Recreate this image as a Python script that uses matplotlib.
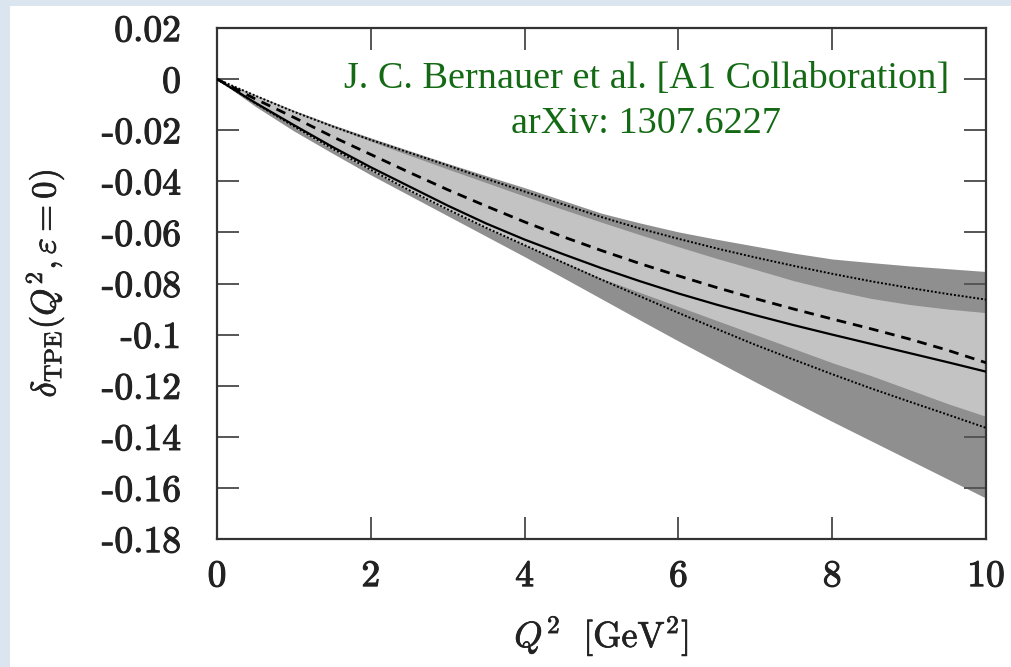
import matplotlib
matplotlib.use("Agg")
import matplotlib.pyplot as plt
import matplotlib.patches as mpatches
import matplotlib.patheffects as pe

# Q^2 grid [GeV^2]
q2 = [0, 0.5, 1, 1.5, 2, 2.5, 3, 3.5, 4, 4.5, 5, 5.5, 6, 6.5, 7, 7.5, 8, 8.5, 9, 9.5, 10]

# central curve (solid) and dashed curve
solid = [0, -0.0093, -0.018, -0.0265, -0.0345, -0.042, -0.0495, -0.0565, -0.0628, -0.0685, -0.074,
         -0.0791, -0.0839, -0.0883, -0.0924, -0.0963, -0.1, -0.1036, -0.1072, -0.1108, -0.1145]
dashed = [0, -0.0078, -0.015, -0.0225, -0.0295, -0.0365, -0.0433, -0.0497, -0.0559, -0.0617, -0.0671,
          -0.0722, -0.077, -0.0816, -0.0859, -0.09, -0.0939, -0.0977, -0.1017, -0.1061, -0.111]

# dotted curves
dot_upper = [0, -0.0065, -0.0128, -0.0185, -0.0238, -0.0288, -0.0338, -0.039, -0.044, -0.049, -0.054,
             -0.0585, -0.0625, -0.0663, -0.0698, -0.0731, -0.0762, -0.0791, -0.0817, -0.0841, -0.0863]
dot_lower = [0, -0.0095, -0.0185, -0.0272, -0.0355, -0.0435, -0.051, -0.0582, -0.065, -0.0718, -0.0785,
             -0.085, -0.0915, -0.0978, -0.104, -0.1098, -0.1155, -0.121, -0.1262, -0.1313, -0.1365]

# outer (dark) band
band_out_hi = [0, -0.0062, -0.0122, -0.0178, -0.023, -0.028, -0.033, -0.0378, -0.0425, -0.0475, -0.0525,
               -0.0563, -0.0598, -0.0627, -0.0654, -0.0681, -0.0704, -0.0718, -0.0731, -0.0742, -0.0753]
band_out_lo = [0, -0.0107, -0.0203, -0.029, -0.0375, -0.0455, -0.0535, -0.0615, -0.0695, -0.0777, -0.086,
               -0.0943, -0.1025, -0.1105, -0.1185, -0.1263, -0.134, -0.1415, -0.149, -0.1565, -0.164]

# inner (light) band
band_in_hi = [0, -0.0064, -0.0127, -0.0186, -0.0243, -0.0298, -0.0352, -0.0405, -0.0458, -0.051, -0.056,
              -0.0609, -0.0656, -0.0702, -0.0745, -0.0789, -0.0826, -0.0858, -0.0882, -0.09, -0.0914]
band_in_lo = [0, -0.0096, -0.0188, -0.0275, -0.0358, -0.0437, -0.0513, -0.0583, -0.065, -0.0715, -0.078,
              -0.0835, -0.089, -0.0945, -0.100, -0.1055, -0.111, -0.116, -0.1215, -0.127, -0.132]

xticks = [0, 2, 4, 6, 8, 10]
xticklabels = ["0", "2", "4", "6", "8", "10"]
yticks = [0.02, 0, -0.02, -0.04, -0.06, -0.08, -0.1, -0.12, -0.14, -0.16, -0.18]
yticklabels = ["0.02", "0", "-0.02", "-0.04", "-0.06", "-0.08", "-0.1", "-0.12", "-0.14", "-0.16", "-0.18"]

plt.rcParams["mathtext.fontset"] = "cm"
plt.rcParams["axes.unicode_minus"] = False

fig = plt.figure(figsize=(10.11, 6.67), dpi=100)
fig.patch.set_facecolor("#dbe5f0")
fig.patches.append(mpatches.Rectangle((10 / 1011, 0), 1, 661 / 667, transform=fig.transFigure,
                                      facecolor="white", edgecolor="none", zorder=-10))

ax = fig.add_axes([217 / 1011, 1 - 539 / 667, 769 / 1011, 511 / 667])
ax.set_facecolor("white")

ax.fill_between(q2, band_out_lo, band_out_hi, color="#8f8f8f", lw=0, zorder=1)
ax.fill_between(q2, band_in_lo, band_in_hi, color="#c3c3c3", lw=0, zorder=2)

ax.plot(q2, solid, color="black", lw=1.6, zorder=4)
ax.plot(q2, dashed, color="black", lw=2.0, ls=(0, (3.5, 2.5)), zorder=4)
ax.plot(q2, dot_upper, color="black", lw=1.4, ls=(0, (1, 1)), zorder=4)
ax.plot(q2, dot_lower, color="black", lw=1.4, ls=(0, (1, 1)), zorder=4)

ax.set_xlim(0, 10)
ax.set_ylim(-0.18, 0.02)
ax.set_xticks(xticks, labels=xticklabels)
ax.set_yticks(yticks, labels=yticklabels)
ax.tick_params(direction="in", length=16, width=1.4, color="#555555",
               top=True, right=True, labelsize=27)
ax.tick_params(axis="y", pad=26)
ax.tick_params(axis="x", pad=15)
heavy = [pe.withStroke(linewidth=0.8, foreground="#222222")]
for lab in ax.get_xticklabels() + ax.get_yticklabels():
    lab.set_family("cmr10")
    lab.set_color("#222222")
    lab.set_path_effects(heavy)
for sp in ax.spines.values():
    sp.set_linewidth(1.6)
    sp.set_color("#333333")

ax.set_xlabel(r"$Q^2\ \ [\mathrm{GeV}^2]$", fontsize=26, va="center", color="#222222")
ax.xaxis.set_label_coords(0.5, -0.19)
ax.set_ylabel(r"$\delta_{\mathrm{TPE}}(Q^2,\varepsilon=0)$", fontsize=25, va="center", color="#222222")
ax.yaxis.set_label_coords(-0.224, 0.5)
ax.xaxis.label.set_path_effects([pe.withStroke(linewidth=0.5, foreground="#222222")])
ax.yaxis.label.set_path_effects([pe.withStroke(linewidth=0.5, foreground="#222222")])

ax.text(5.585, 0.0, "J. C. Bernauer et al. [A1 Collaboration]", color="#146a14",
        fontsize=27.5, family="Liberation Serif", ha="center", va="center", zorder=5)
ax.text(5.585, -0.0176, "arXiv: 1307.6227", color="#146a14",
        fontsize=27.5, family="Liberation Serif", ha="center", va="center", zorder=5)

fig.savefig("out.png", dpi=100, facecolor=fig.get_facecolor())
